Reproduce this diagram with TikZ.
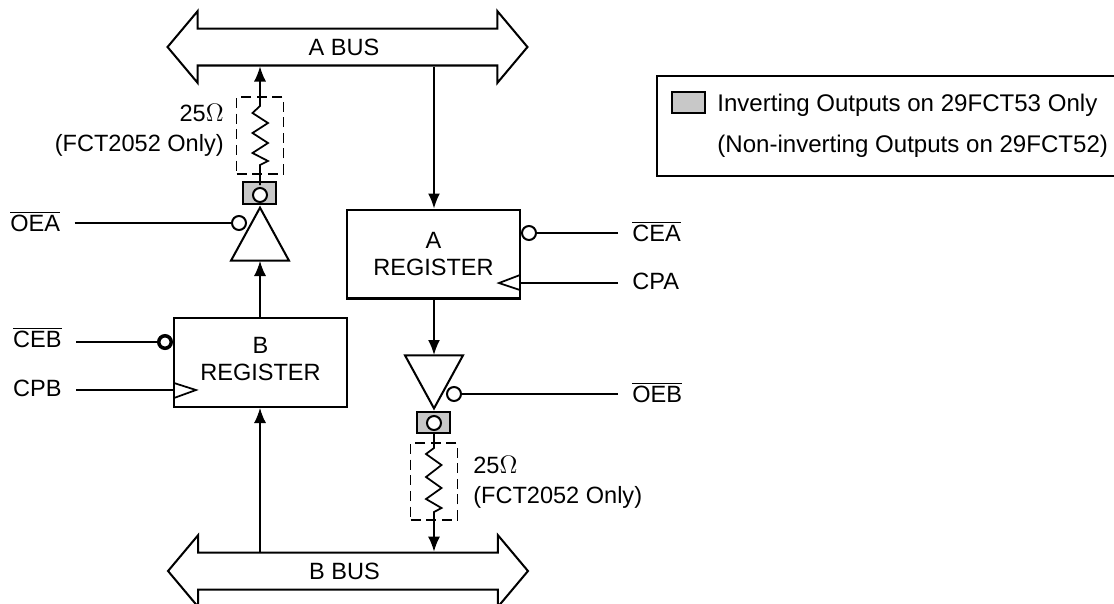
\documentclass[tikz,border=0pt]{standalone}
\usepackage{fontspec}
\setmainfont{Liberation Sans}
\usepackage{tikz}
\usetikzlibrary{arrows.meta,shapes.arrows,shapes.geometric}

\definecolor{outgray}{RGB}{200,200,200}

\tikzset{
  wire/.style={line width=1pt},
  thinwire/.style={line width=0.7pt},
  tip/.style={-{Latex[length=0.3cm,width=0.24cm]}},
  bus/.style={shape=double arrow,draw,line width=1.15pt,fill=white,minimum height=7.2cm,
    double arrow head extend=0.35cm,double arrow tip angle=100,
    text height=9.5pt,text depth=0pt,inner ysep=5.2pt,inner xsep=0pt},
  register/.style={draw,line width=1.15pt,minimum width=3.46cm,minimum height=1.78cm,
    align=center,inner sep=0pt,font=\fontsize{13.4}{15.5}\selectfont},
  buffer/.style={shape=isosceles triangle,draw,line width=1.15pt,fill=white,isosceles triangle stretches,
    minimum height=1.06cm,minimum width=1.16cm,inner sep=0pt},
  outbox/.style={draw,line width=1.15pt,fill=outgray,minimum width=0.66cm,minimum height=0.43cm,inner sep=0pt},
  bubble/.style={circle,draw,line width=1.15pt,fill=white,minimum size=0.28cm,inner sep=0pt},
  dashbox/.style={draw,dash pattern=on 5.7pt off 3.2pt,line width=1.05pt,minimum width=0.94cm,minimum height=1.54cm,inner sep=0pt},
  siglabel/.style={inner sep=0.28cm},
  note/.style={align=left,inner sep=0pt,font=\fontsize{13.4}{17}\selectfont},
  legendtext/.style={inner sep=0pt,font=\fontsize{13.7}{17}\selectfont}
}

\newcommand{\sigbar}[1]{$\overline{\mbox{#1}}$}

\begin{document}
\begin{tikzpicture}[x=0.02cm,y=-0.02cm,font=\fontsize{13.4}{16}\selectfont]
  \useasboundingbox (0,0) rectangle (1114,603);
  \clip (0,0) rectangle (1114,603);

  % Buses
  \node[bus] (abus) at (347.5,47) {A BUS\kern0.14cm};
  \node[bus] (bbus) at (348,571) {B BUS\kern0.14cm};

  % Registers
  \node[register] (areg) at (433.5,254) {A\\REGISTER};
  \node[register,text depth=4.5pt] (breg) at (260.5,362.5) {B\\REGISTER};

  % Left buffer
  \node[buffer,shape border rotate=90,anchor=apex] (bufa) at (260,205) {};
  \coordinate (bufatop) at (260,261);
  \node[outbox] (outa) at (259.5,193) {};
  \node[dashbox] (resa) at (260,135.5) {};
  \draw[wire] (260,185) -- (260,165) -- (268,161) -- (252.5,153) -- (268,143) -- (252.5,133)
    -- (268,123) -- (252.5,113) -- (260,106) -- (resa.north);
  \node[bubble] (ringa) at (260,195) {};
  \draw[thinwire,tip] (resa.north) -- (abus.south -| resa.north);
  \node[bubble] (oeabub) at (239,223) {};

  % Right buffer
  \node[buffer,shape border rotate=270,anchor=apex] (bufb) at (434,411) {};
  \coordinate (bufbtop) at (434,355);
  \node[outbox] (outb) at (433.5,422.5) {};
  \node[dashbox] (resb) at (434,481.5) {};
  \draw[wire] (434,433) -- (434,448) -- (426,454) -- (441.5,465) -- (426,477) -- (441.5,488)
    -- (426,499) -- (441.5,508) -- (434,512) -- (resb.south);
  \node[bubble] (ringb) at (434,423) {};
  \draw[thinwire,tip] (resb.south) -- (bbus.north -| resb.south);
  \node[bubble] (oebbub) at (454,394) {};

  % Data paths
  \draw[wire,tip] (bufbtop |- abus.south) -- (bufbtop |- areg.north);
  \draw[wire,tip] (bufbtop |- areg.south) -- (bufbtop);
  \draw[thinwire,tip] (bufatop |- breg.north) -- (bufatop);
  \draw[thinwire,tip] (bufatop |- bbus.north) -- (bufatop |- breg.south);

  % Control inputs
  \node[bubble] (ceabub) at (529,233) {};
  \node[bubble,line width=2pt,minimum size=0.25cm] (cebbub) at (165,342) {};
  \coordinate (clka) at (520,283);
  \coordinate (clkb) at (174,390);
  \draw[wire] (520,275) -- (499,283) -- (520,290);
  \draw[wire] (174,383) -- (196,390) -- (174,398);

  \node[siglabel,anchor=base west] (cea) at (618,241.5) {\sigbar{CEA}};
  \node[siglabel,anchor=base west] (cpa) at (618,289.5) {CPA};
  \node[siglabel,anchor=base west] (oeb) at (618,402.5) {\sigbar{OEB}};
  \node[siglabel,anchor=base east,xshift=-0.03cm] (oea) at (76,231) {\sigbar{OEA}};
  \node[siglabel,anchor=base east] (ceb) at (76,347.7) {\sigbar{CEB}};
  \node[siglabel,anchor=base east] (cpb) at (76,396.7) {CPB};

  \draw[wire] (cea.west |- ceabub) -- (ceabub);
  \draw[wire] (cpa.west |- clka) -- (clka);
  \draw[wire] (oeb.west |- oebbub) -- (oebbub);
  \draw[wire] (oea.east |- oeabub) -- (oeabub);
  \draw[wire] (ceb.east |- cebbub) -- (cebbub);
  \draw[wire] (cpb.east |- clkb) -- (clkb);

  % Resistor notes
  \node[note,align=right,anchor=east] at (224,130) {25$\Omega$\\(FCT2052 Only)};
  \node[note,anchor=west] at (473,482) {25$\Omega$\\(FCT2052 Only)};

  % Legend
  \node[draw,line width=1.15pt,minimum width=9.26cm,minimum height=2cm,inner sep=0pt] (legend) at (888.5,126) {};
  \node[outbox] (swatch) at (688.5,102.5) {};
  \node[legendtext,anchor=base west] (legenda) at (717,111) {Inverting Outputs on 29FCT53 Only};
  \node[legendtext,anchor=base west] (legendb) at (717,152) {(Non-inverting Outputs on 29FCT52)};
\end{tikzpicture}
\end{document}
